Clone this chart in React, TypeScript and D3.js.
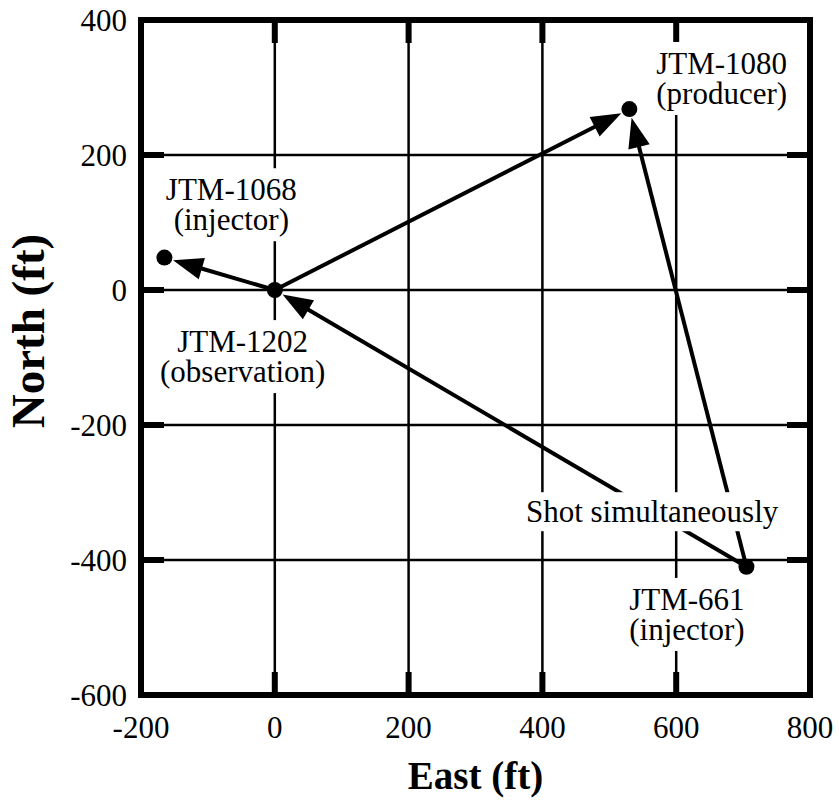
import React, { useEffect, useRef } from "react";
import * as d3 from "d3";

const xTicks = [-200, 0, 200, 400, 600, 800];
const yTicks = [-600, -400, -200, 0, 200, 400];
const wellNames = ["JTM-1068", "JTM-1202", "JTM-1080", "JTM-661"];
const wellRoles = ["(injector)", "(observation)", "(producer)", "(injector)"];
const wellEast = [-165, 0, 530, 705];
const wellNorth = [48, 0, 268, -410];
const arrowFrom = ["JTM-1202", "JTM-1202", "JTM-661", "JTM-661"];
const arrowTo = ["JTM-1068", "JTM-1080", "JTM-1202", "JTM-1080"];
const labelEast = [-65, -48, 668, 616];
const labelNorth = [133, -92, 320, -474];
const noteText = "Shot simultaneously";
const noteEast = 564;
const noteNorth = -344;
const xTitle = "East (ft)";
const yTitle = "North (ft)";

export default function App() {
  const ref = useRef<SVGSVGElement>(null);
  useEffect(() => {
    const svg = d3.select(ref.current);
    svg.selectAll("*").remove();
    const x = d3.scaleLinear().domain([-200, 800]).range([141, 810]);
    const y = d3.scaleLinear().domain([-600, 400]).range([695, 20]);
    const font = "'Liberation Serif','Times New Roman',serif";
    const g = svg.append("g");
    const inX = xTicks.slice(1, -1);
    const inY = yTicks.slice(1, -1);

    g.selectAll(".gx").data(inX).join("line")
      .attr("x1", d => x(d)).attr("x2", d => x(d))
      .attr("y1", y(400)).attr("y2", y(-600))
      .attr("stroke", "#000").attr("stroke-width", 2.5);
    g.selectAll(".gy").data(inY).join("line")
      .attr("y1", d => y(d)).attr("y2", d => y(d))
      .attr("x1", x(-200)).attr("x2", x(800))
      .attr("stroke", "#000").attr("stroke-width", 2.5);

    const stub = 23;
    const sw = 6;
    inX.forEach(d => {
      g.append("line").attr("x1", x(d)).attr("x2", x(d)).attr("y1", y(400)).attr("y2", y(400) + stub).attr("stroke", "#000").attr("stroke-width", sw);
      g.append("line").attr("x1", x(d)).attr("x2", x(d)).attr("y1", y(-600)).attr("y2", y(-600) - stub).attr("stroke", "#000").attr("stroke-width", sw);
    });
    inY.forEach(d => {
      g.append("line").attr("y1", y(d)).attr("y2", y(d)).attr("x1", x(-200)).attr("x2", x(-200) + stub).attr("stroke", "#000").attr("stroke-width", sw);
      g.append("line").attr("y1", y(d)).attr("y2", y(d)).attr("x1", x(800)).attr("x2", x(800) - stub).attr("stroke", "#000").attr("stroke-width", sw);
    });

    const idx = (n: string) => wellNames.indexOf(n);
    arrowFrom.forEach((f, i) => {
      const a = idx(f), b = idx(arrowTo[i]);
      const x1 = x(wellEast[a]), y1 = y(wellNorth[a]);
      const x2 = x(wellEast[b]), y2 = y(wellNorth[b]);
      const dx = x2 - x1, dy = y2 - y1, L = Math.hypot(dx, dy);
      const ux = dx / L, uy = dy / L;
      const tx = x2 - ux * 9, ty = y2 - uy * 9;
      const bx = tx - ux * 30, by = ty - uy * 30;
      const px = -uy, py = ux;
      g.append("line").attr("x1", x1).attr("y1", y1).attr("x2", bx + ux * 3).attr("y2", by + uy * 3)
        .attr("stroke", "#000").attr("stroke-width", 4);
      g.append("polygon")
        .attr("points", [[tx, ty], [bx + px * 11, by + py * 11], [bx - px * 11, by - py * 11]].map(p => p.join(",")).join(" "))
        .attr("fill", "#000");
    });

    g.selectAll(".dot").data(wellNames).join("circle")
      .attr("cx", (_, i) => x(wellEast[i])).attr("cy", (_, i) => y(wellNorth[i]))
      .attr("r", 8).attr("fill", "#000");

    const boxLayer = g.append("g");
    const textLayer = g.append("g");
    const addLabel = (lines: string[], cx: number, cy: number, padX: number, padY: number) => {
      lines.forEach((s, k) => {
        const t = textLayer.append("text").attr("font-family", font).attr("font-size", 31)
          .attr("text-anchor", "middle").attr("fill", "#000")
          .attr("x", cx).attr("y", cy + k * 30).text(s);
        const bb = (t.node() as SVGTextElement).getBBox();
        boxLayer.append("rect").attr("x", bb.x - padX).attr("y", bb.y - padY)
          .attr("width", bb.width + 2 * padX).attr("height", bb.height + 2 * padY).attr("fill", "#fff");
      });
    };
    wellNames.forEach((n, i) => addLabel([n, wellRoles[i]], x(labelEast[i]), y(labelNorth[i]), 4, 4));
    addLabel([noteText], x(noteEast), y(noteNorth), 3, 2);

    g.append("rect").attr("x", x(-200)).attr("y", y(400))
      .attr("width", x(800) - x(-200)).attr("height", y(-600) - y(400))
      .attr("fill", "none").attr("stroke", "#000").attr("stroke-width", 6);

    g.selectAll(".xl").data(xTicks).join("text")
      .attr("x", d => x(d)).attr("y", 738).attr("text-anchor", "middle")
      .attr("font-family", font).attr("font-size", 31).text(d => String(d));
    g.selectAll(".yl").data(yTicks).join("text")
      .attr("x", 127).attr("y", d => y(d) + 11).attr("text-anchor", "end")
      .attr("font-family", font).attr("font-size", 31).text(d => String(d));

    g.append("text").attr("x", (x(-200) + x(800)) / 2).attr("y", 789).attr("text-anchor", "middle")
      .attr("font-family", font).attr("font-weight", "bold").attr("font-size", 39).text(xTitle);
    g.append("text").attr("transform", `translate(44,331) rotate(-90)`).attr("text-anchor", "middle")
      .attr("font-family", font).attr("font-weight", "bold").attr("font-size", 47).text(yTitle);
  }, []);
  return <svg ref={ref} width={839} height={801} style={{ position: "absolute", left: 0, top: 0, background: "#fff" }} />;
}
